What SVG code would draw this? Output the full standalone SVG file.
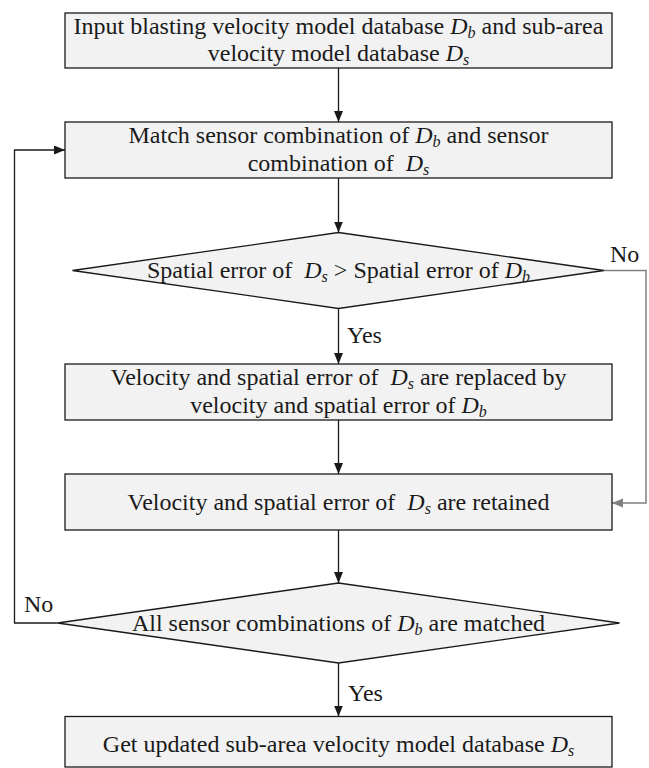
<svg xmlns="http://www.w3.org/2000/svg" width="649" height="768" viewBox="0 0 649 768">
<style>
.box{fill:#f2f2f2;stroke:#1a1a1a;stroke-width:1.3}
.t{font-family:"Liberation Serif","Times New Roman",serif;font-size:24px;fill:#1a1a1a;text-anchor:middle}
.lbl{font-family:"Liberation Serif","Times New Roman",serif;font-size:24px;fill:#1a1a1a}
.i{font-style:italic}
.s{font-style:italic;font-size:16px}
.c{fill:none;stroke:#1a1a1a;stroke-width:1.3}
.g{fill:none;stroke:#808080;stroke-width:1.5}
</style>
<defs>
<marker id="a" markerWidth="12" markerHeight="10" refX="11" refY="4.5" orient="auto" markerUnits="userSpaceOnUse">
<path d="M0,0 L11,4.5 L0,9 Z" fill="#1a1a1a"/>
</marker>
<marker id="ag" markerWidth="12" markerHeight="10" refX="11" refY="4.5" orient="auto" markerUnits="userSpaceOnUse">
<path d="M0,0 L11,4.5 L0,9 Z" fill="#808080"/>
</marker>
</defs>
<g id="connectors">
<line class="c" x1="338.5" y1="68" x2="338.5" y2="122" marker-end="url(#a)"/>
<line class="c" x1="338.5" y1="178" x2="338.5" y2="232.5" marker-end="url(#a)"/>
<line class="c" x1="338.5" y1="308.5" x2="338.5" y2="364" marker-end="url(#a)"/>
<line class="c" x1="338.5" y1="420" x2="338.5" y2="474" marker-end="url(#a)"/>
<line class="c" x1="338.5" y1="530" x2="338.5" y2="583" marker-end="url(#a)"/>
<line class="c" x1="338.5" y1="663" x2="338.5" y2="716.5" marker-end="url(#a)"/>
<polyline class="g" points="604,270.5 646,270.5 646,503 612,503" marker-end="url(#ag)"/>
<polyline class="c" points="57.5,623 14.5,623 14.5,150 65,150" marker-end="url(#a)"/>
<text class="lbl" x="610" y="262">No</text>
<text class="lbl" x="347" y="343">Yes</text>
<text class="lbl" x="24" y="612">No</text>
<text class="lbl" x="348" y="701">Yes</text>
</g>
<g id="n1">
<rect class="box" x="65" y="13" width="547" height="55"/>
<text class="t" x="338.5" y="34">Input blasting velocity model database <tspan class="i">D</tspan><tspan class="s" dy="4">b</tspan><tspan dy="-4"> and sub-area</tspan></text>
<text class="t" x="338.5" y="61">velocity model database <tspan class="i">D</tspan><tspan class="s" dy="4">s</tspan></text>
</g>
<g id="n2">
<rect class="box" x="65" y="122" width="547" height="56"/>
<text class="t" x="338.5" y="143">Match sensor combination of <tspan class="i">D</tspan><tspan class="s" dy="4">b</tspan><tspan dy="-4"> and sensor</tspan></text>
<text class="t" x="338.5" y="171" xml:space="preserve">combination of  <tspan class="i">D</tspan><tspan class="s" dy="4">s</tspan></text>
</g>
<g id="n3">
<polygon class="box" points="338.5,232.5 604,270.5 338.5,308.5 72.5,270.5"/>
<text class="t" x="338.5" y="278" xml:space="preserve">Spatial error of  <tspan class="i">D</tspan><tspan class="s" dy="4">s</tspan><tspan dy="-4"> &gt; Spatial error of </tspan><tspan class="i">D</tspan><tspan class="s" dy="4">b</tspan></text>
</g>
<g id="n4">
<rect class="box" x="65" y="364" width="547" height="56"/>
<text class="t" x="338.5" y="385" xml:space="preserve">Velocity and spatial error of  <tspan class="i">D</tspan><tspan class="s" dy="4">s</tspan><tspan dy="-4"> are replaced by</tspan></text>
<text class="t" x="338.5" y="413">velocity and spatial error of <tspan class="i">D</tspan><tspan class="s" dy="4">b</tspan></text>
</g>
<g id="n5">
<rect class="box" x="65" y="474" width="547" height="56"/>
<text class="t" x="338.5" y="510" xml:space="preserve">Velocity and spatial error of  <tspan class="i">D</tspan><tspan class="s" dy="4">s</tspan><tspan dy="-4"> are retained</tspan></text>
</g>
<g id="n6">
<polygon class="box" points="338.5,583 619.5,623 338.5,663 57.5,623"/>
<text class="t" x="338.5" y="631">All sensor combinations of <tspan class="i">D</tspan><tspan class="s" dy="4">b</tspan><tspan dy="-4"> are matched</tspan></text>
</g>
<g id="n7">
<rect class="box" x="65" y="716.5" width="547" height="50.5"/>
<text class="t" x="338.5" y="752">Get updated sub-area velocity model database <tspan class="i">D</tspan><tspan class="s" dy="4">s</tspan></text>
</g>
</svg>
